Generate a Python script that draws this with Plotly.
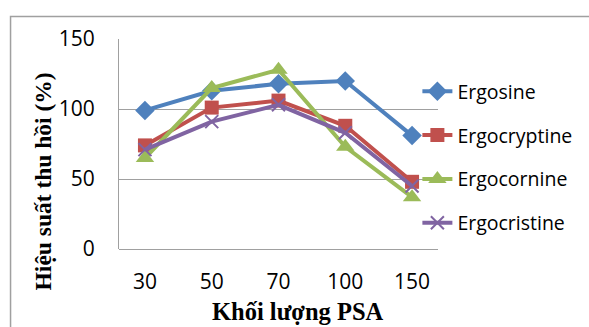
import plotly.graph_objects as go

categories = ["30", "50", "70", "100", "150"]
ergosine = [99, 113, 118, 120, 81]
ergocryptine = [74, 101, 106, 88, 48]
ergocornine = [65, 115, 128, 73, 37]
ergocristine = [71, 91, 103, 83, 45]

series = [
    ("Ergosine", ergosine, "#4F81BD", "diamond", 15),
    ("Ergocryptine", ergocryptine, "#C0504D", "square", 14),
    ("Ergocornine", ergocornine, "#9BBB59", "triangle-up", 16),
    ("Ergocristine", ergocristine, "#8064A2", "x-thin", 13),
]

W, H = 589, 327
L, R, T, B = 119, 444, 39, 249

fig = go.Figure()
for name, vals, color, sym, size in series:
    marker = dict(symbol=sym, size=size, color=color)
    if sym == "x-thin":
        marker["line"] = dict(color=color, width=2)
    fig.add_trace(go.Scatter(
        x=categories, y=vals, name=name, mode="lines+markers",
        line=dict(color=color, width=4), marker=marker, legendgroup=name,
    ))

pw, ph = R - L, B - T
def px(x):
    return (x - L) / pw
def py(y):
    return (B - y) / ph

fig.update_layout(
    width=W, height=H,
    margin=dict(l=L, r=W - R, t=T, b=H - B),
    paper_bgcolor="white", plot_bgcolor="white",
    font=dict(family="Open Sans, sans-serif", size=21, color="black"),
    showlegend=True,
    legend=dict(
        x=px(423), y=py(72), xanchor="left", yanchor="top",
        font=dict(size=19.5), tracegroupgap=15.5, itemwidth=30,
        bgcolor="rgba(0,0,0,0)", borderwidth=0,
    ),
    xaxis=dict(
        type="category", showgrid=False, showline=False, ticks="",
        tickfont=dict(size=21), zeroline=False, ticklabelstandoff=18,
    ),
    yaxis=dict(
        range=[0, 150], tickvals=[0, 50, 100, 150], showgrid=True,
        gridcolor="#A0A0A0", gridwidth=1, showline=True, linecolor="#A0A0A0",
        linewidth=1, ticks="", tickfont=dict(size=21), zeroline=True,
        zerolinecolor="#A0A0A0", zerolinewidth=1, ticklabelstandoff=19,
    ),
    annotations=[
        dict(text="<b>Khối lượng PSA</b>", x=px(301), y=py(311), xref="paper", yref="paper",
             xanchor="center", yanchor="middle", showarrow=False,
             font=dict(family="Liberation Serif, serif", size=24.5, color="black")),
        dict(text="<b>Hiệu suất thu hồi (%)</b>", x=px(42), y=py(181), xref="paper", yref="paper",
             xanchor="center", yanchor="middle", showarrow=False, textangle=-90,
             font=dict(family="Liberation Serif, serif", size=23.5, color="black")),
    ],
    shapes=[
        dict(type="rect", xref="paper", yref="paper", x0=px(8.5), x1=px(620), y0=py(340), y1=py(16.5),
             line=dict(color="#A0A0A0", width=1.5), layer="below"),
    ],
)

fig.write_html("out.html")
